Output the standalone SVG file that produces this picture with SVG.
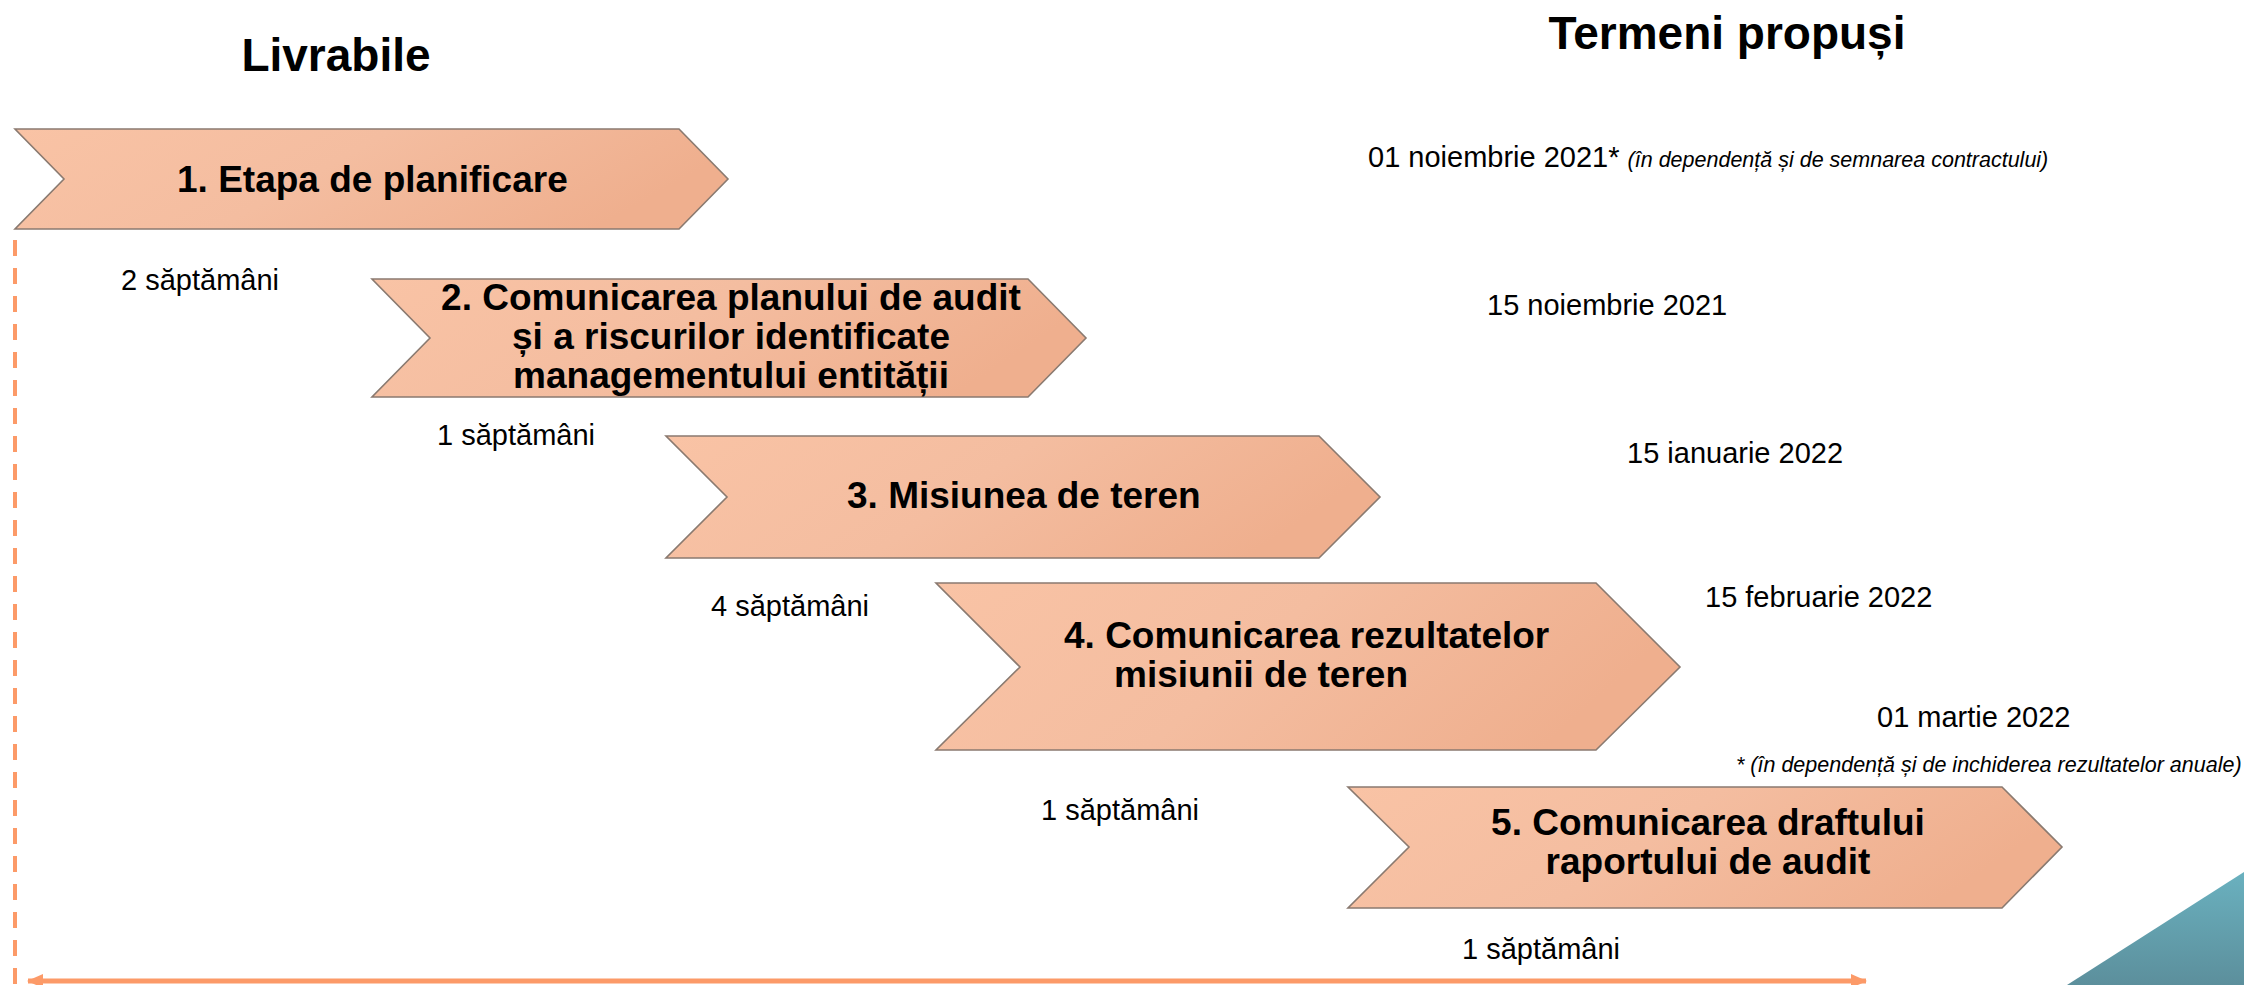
<svg xmlns="http://www.w3.org/2000/svg" width="2244" height="985" viewBox="0 0 2244 985">
<defs>
<linearGradient id="peach" x1="0" y1="0" x2="1" y2="0.25">
<stop offset="0" stop-color="#F9C3A5"/>
<stop offset="0.5" stop-color="#F4BDA0"/>
<stop offset="1" stop-color="#EFAF8E"/>
</linearGradient>
<linearGradient id="teal" x1="0" y1="0" x2="0" y2="1">
<stop offset="0" stop-color="#6AB1BF"/>
<stop offset="1" stop-color="#5C8F9C"/>
</linearGradient>
<marker id="ah" viewBox="0 0 16 14" refX="15" refY="7" markerWidth="16" markerHeight="14" markerUnits="userSpaceOnUse" orient="auto-start-reverse">
<path d="M0,0 L16,7 L0,14 z" fill="#FC9A68"/>
</marker>
</defs>
<style>
.chev{fill:url(#peach);stroke:#8A7A70;stroke-width:1.6;}
.lbl{font-family:"Liberation Sans",Arial,sans-serif;font-weight:bold;font-size:37px;fill:#000;}
.ttl{font-family:"Liberation Sans",Arial,sans-serif;font-weight:bold;font-size:46px;fill:#000;text-anchor:middle;}
.txt{font-family:"Liberation Sans",Arial,sans-serif;font-size:29px;fill:#000;}
.note{font-family:"Liberation Sans",Arial,sans-serif;font-style:italic;font-size:21.5px;fill:#000;}
</style>
<rect width="2244" height="985" fill="#FFFFFF"/>
<polygon points="2067,985 2244,872 2244,985" fill="url(#teal)"/>
<text class="ttl" x="336" y="71">Livrabile</text>
<text class="ttl" x="1727" y="49">Termeni propuși</text>
<g id="connectors">
<line x1="15" y1="240" x2="15" y2="985" stroke="#FC9A68" stroke-width="4" stroke-dasharray="16 12"/>
<line x1="28" y1="981" x2="1866" y2="981" stroke="#FC9A68" stroke-width="5" marker-start="url(#ah)" marker-end="url(#ah)"/>
</g>
<g id="node1">
<polygon class="chev" points="15,129 679,129 728,179 679,229 15,229 64,179"/>
<text class="lbl" x="177" y="192">1. Etapa de planificare</text>
</g>
<g id="node2">
<polygon class="chev" points="372,279 1028,279 1086,338 1028,397 372,397 430,338"/>
<text class="lbl" text-anchor="middle" x="731" y="310">2. Comunicarea planului de audit</text>
<text class="lbl" text-anchor="middle" x="731" y="349">și a riscurilor identificate</text>
<text class="lbl" text-anchor="middle" x="731" y="388">managementului entității</text>
</g>
<g id="node3">
<polygon class="chev" points="666,436 1319,436 1380,497 1319,558 666,558 727,497"/>
<text class="lbl" x="847" y="508">3. Misiunea de teren</text>
</g>
<g id="node4">
<polygon class="chev" points="936,583 1596,583 1680,667 1596,750 936,750 1020,667"/>
<text class="lbl" x="1064" y="648">4. Comunicarea rezultatelor</text>
<text class="lbl" x="1114" y="687">misiunii de teren</text>
</g>
<g id="node5">
<polygon class="chev" points="1348,787 2002,787 2062,847 2002,908 1348,908 1409,847"/>
<text class="lbl" text-anchor="middle" x="1708" y="835">5. Comunicarea draftului</text>
<text class="lbl" text-anchor="middle" x="1708" y="874">raportului de audit</text>
</g>
<g id="durations">
<text class="txt" x="121" y="290">2 săptămâni</text>
<text class="txt" x="437" y="445">1 săptămâni</text>
<text class="txt" x="711" y="616">4 săptămâni</text>
<text class="txt" x="1041" y="820">1 săptămâni</text>
<text class="txt" x="1462" y="959">1 săptămâni</text>
</g>
<g id="dates">
<text x="1368" y="167"><tspan class="txt">01 noiembrie 2021* </tspan><tspan class="note">(în dependență și de semnarea contractului)</tspan></text>
<text class="txt" x="1487" y="315">15 noiembrie 2021</text>
<text class="txt" x="1627" y="463">15 ianuarie 2022</text>
<text class="txt" x="1705" y="607">15 februarie 2022</text>
<text class="txt" x="1877" y="727">01 martie 2022</text>
<text class="note" x="1736" y="772">* (în dependență și de inchiderea rezultatelor anuale)</text>
</g>
</svg>
